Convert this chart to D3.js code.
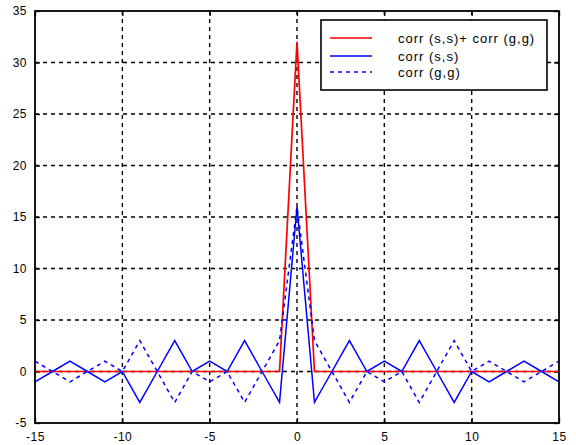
<!DOCTYPE html>
<html><head><meta charset="utf-8">
<script src="https://cdn.jsdelivr.net/npm/d3@7"></script>
<style>body{margin:0;background:#fff}</style>
</head><body>
<svg id="c" width="576" height="445"></svg>
<script>
const lags = d3.range(-15, 16);
const corrS = [-1,0,1,0,-1,0,-3,0,3,0,1,0,3,0,-3,16,-3,0,3,0,1,0,3,0,-3,0,-1,0,1,0,-1];
const corrG = [1,0,-1,0,1,0,3,0,-3,0,-1,0,-3,0,3,16,3,0,-3,0,-1,0,-3,0,3,0,1,0,-1,0,1];
const corrSum = corrS.map((v,i)=>v+corrG[i]);
const xTicks = [-15,-10,-5,0,5,10,15];
const yTicks = [-5,0,5,10,15,20,25,30,35];
const legendLabels = ["corr (s,s)+ corr (g,g)", "corr (s,s)", "corr (g,g)"];

const svg = d3.select("#c");
const L=35, R=559, T=11, B=423;
const x = d3.scaleLinear().domain([-15,15]).range([L,R]);
const y = d3.scaleLinear().domain([-5,35]).range([B,T]);
const font = "Arial, 'Liberation Sans', sans-serif";

// grid
const g = svg.append("g");
g.selectAll(".gx").data(xTicks.slice(1,-1)).join("line")
  .attr("x1",d=>x(d)).attr("x2",d=>x(d)).attr("y1",T).attr("y2",B)
  .attr("stroke","#000").attr("stroke-width",1.4).attr("stroke-dasharray","4,4");
g.selectAll(".gy").data(yTicks.slice(1,-1)).join("line")
  .attr("y1",d=>y(d)).attr("y2",d=>y(d)).attr("x1",L).attr("x2",R)
  .attr("stroke","#000").attr("stroke-width",1.4).attr("stroke-dasharray","4,4");

// axes
const fmt = d => String(d);
const ax = d3.axisBottom(x).tickValues(xTicks).tickSize(-5).tickPadding(9).tickFormat(fmt);
const ay = d3.axisLeft(y).tickValues(yTicks).tickSize(-5).tickPadding(8).tickFormat(fmt);
const axT = d3.axisTop(x).tickValues(xTicks).tickSize(-5).tickFormat("");
const ayR = d3.axisRight(y).tickValues(yTicks).tickSize(-5).tickFormat("");
function style(sel){
  sel.select(".domain").remove();
  sel.selectAll("line").attr("stroke","#000").attr("stroke-width",1.3);
  sel.selectAll("text").attr("font-family",font).attr("font-size",12).attr("letter-spacing",0.5).attr("fill","#000");
}
svg.append("g").attr("transform",`translate(0,${B})`).call(ax).call(style);
svg.append("g").attr("transform",`translate(${L},0)`).call(ay).call(style);
svg.append("g").attr("transform",`translate(0,${T})`).call(axT).call(style);
svg.append("g").attr("transform",`translate(${R},0)`).call(ayR).call(style);

// data lines
const line = vals => d3.line().x((d,i)=>x(lags[i])).y(d=>y(d))(vals);
svg.append("path").attr("d",line(corrSum)).attr("fill","none").attr("stroke","#ff0000").attr("stroke-width",1.7);
svg.append("path").attr("d",line(corrS)).attr("fill","none").attr("stroke","#0000ff").attr("stroke-width",1.5);
svg.append("path").attr("d",line(corrG)).attr("fill","none").attr("stroke","#0000ff").attr("stroke-width",1.5).attr("stroke-dasharray","4,4");

// box
svg.append("rect").attr("x",L).attr("y",T).attr("width",R-L).attr("height",B-T)
  .attr("fill","none").attr("stroke","#000").attr("stroke-width",1.8);

// legend
const lg = svg.append("g");
lg.append("rect").attr("x",321).attr("y",20).attr("width",226).attr("height",70)
  .attr("fill","#fff").attr("stroke","#000").attr("stroke-width",1.6);
const ly = [38,56,72];
const lc = ["#ff0000","#0000ff","#0000ff"];
const ld = [null,null,"4,4"];
legendLabels.forEach((t,i)=>{
  lg.append("line").attr("x1",330).attr("x2",372).attr("y1",ly[i]).attr("y2",ly[i])
    .attr("stroke",lc[i]).attr("stroke-width",1.7).attr("stroke-dasharray",ld[i]);
  lg.append("text").attr("x",398).attr("y",ly[i]).attr("dy","0.35em")
    .attr("font-family",font).attr("font-size",13).attr("letter-spacing",1).text(t);
});
</script>
</body></html>
